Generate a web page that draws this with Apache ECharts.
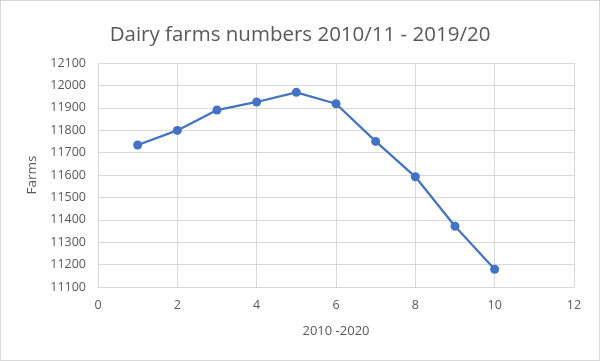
<!DOCTYPE html>
<html>
<head>
<meta charset="utf-8">
<script src="https://cdn.jsdelivr.net/npm/echarts@6/dist/echarts.min.js"></script>
<style>
html,body{margin:0;padding:0;background:#fff;}
#c{width:598px;height:359px;border:1px solid #d9d9d9;}
</style>
</head>
<body>
<div id="c"></div>
<script>
var years = [1, 2, 3, 4, 5, 6, 7, 8, 9, 10];
var farms = [11734, 11799, 11890, 11926, 11969, 11918, 11750, 11592, 11371, 11179];
var xTicks = [0, 2, 4, 6, 8, 10, 12];
var yTicks = [11100, 11200, 11300, 11400, 11500, 11600, 11700, 11800, 11900, 12000, 12100];

var font = 'Open Sans';
var chart = echarts.init(document.getElementById('c'), null, {renderer: 'canvas'});
chart.setOption({
  animation: false,
  title: {
    text: 'Dairy farms numbers 2010/11 - 2019/20',
    left: 'center',
    top: 19,
    textStyle: {fontFamily: font, fontSize: 20.5, fontWeight: 'normal', color: '#595959'}
  },
  grid: {left: 97, right: 25, top: 62, bottom: 73},
  xAxis: {
    type: 'value',
    min: xTicks[0], max: xTicks[xTicks.length - 1], interval: 2,
    name: '2010 -2020',
    nameLocation: 'middle',
    nameGap: 38,
    nameTextStyle: {fontFamily: font, fontSize: 13, color: '#595959'},
    axisLine: {show: true, lineStyle: {color: '#d9d9d9', width: 1}},
    axisTick: {show: false},
    axisLabel: {fontFamily: font, fontSize: 12.5, color: '#595959', margin: 12, formatter: function (v) { return String(v); }},
    splitLine: {show: true, lineStyle: {color: '#d9d9d9', width: 1}}
  },
  yAxis: {
    type: 'value',
    min: yTicks[0], max: yTicks[yTicks.length - 1], interval: 100,
    name: 'Farms',
    nameLocation: 'middle',
    nameGap: 56,
    nameTextStyle: {fontFamily: font, fontSize: 13.5, color: '#595959'},
    axisLine: {show: false},
    axisTick: {show: false},
    axisLabel: {fontFamily: font, fontSize: 12.5, color: '#595959', margin: 12, formatter: function (v) { return String(v); }},
    splitLine: {show: true, lineStyle: {color: '#d9d9d9', width: 1}}
  },
  series: [{
    type: 'line',
    data: years.map(function (x, i) { return [x, farms[i]]; }),
    symbol: 'circle',
    symbolSize: 9,
    lineStyle: {color: '#4472C4', width: 2.25},
    itemStyle: {color: '#4472C4'}
  }]
});
</script>
</body>
</html>
